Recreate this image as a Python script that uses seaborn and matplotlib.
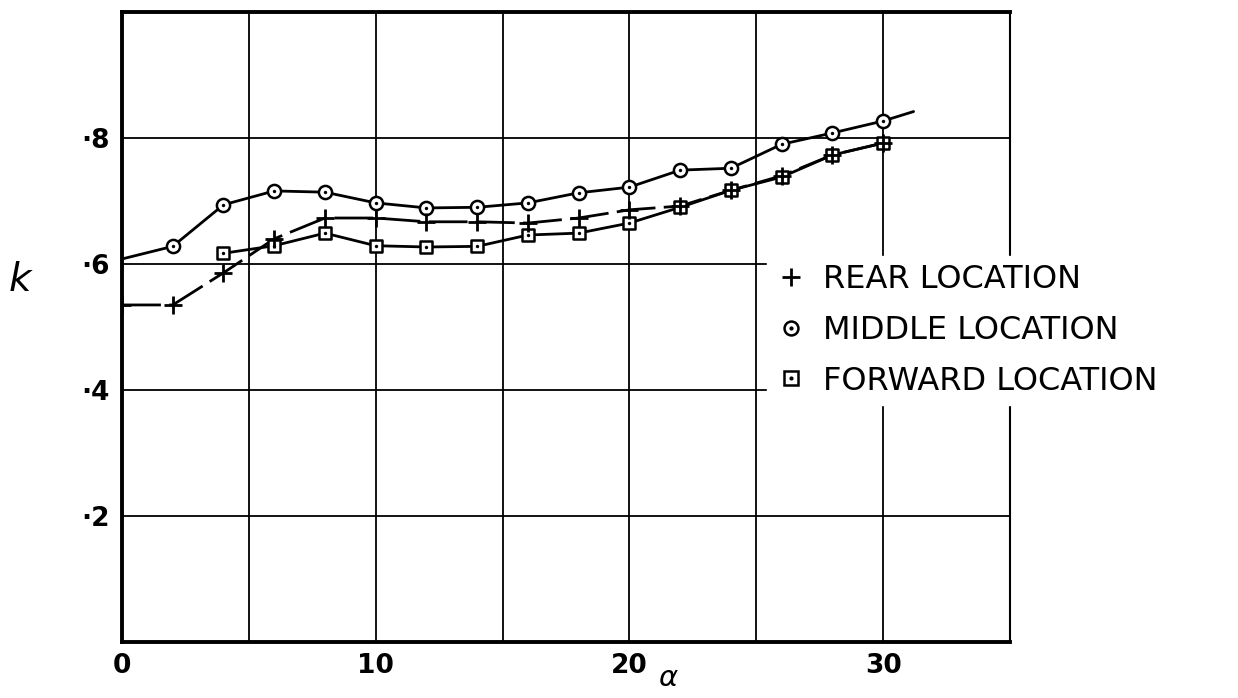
import matplotlib
matplotlib.use("Agg")
import matplotlib.pyplot as plt
import seaborn as sns
import pandas as pd
from matplotlib.lines import Line2D
from matplotlib.legend_handler import HandlerTuple

# ---- data ----
alpha_rear = [0, 2, 4, 6, 8, 10, 12, 14, 16, 18, 20, 22, 24, 26, 28, 30]
k_rear = [0.535, 0.535, 0.586, 0.640, 0.673, 0.673, 0.667, 0.667, 0.665,
          0.673, 0.686, 0.692, 0.717, 0.740, 0.773, 0.792]

alpha_middle = [2, 4, 6, 8, 10, 12, 14, 16, 18, 20, 22, 24, 26, 28, 30]
k_middle = [0.628, 0.694, 0.716, 0.714, 0.697, 0.689, 0.690, 0.697, 0.713,
            0.722, 0.749, 0.752, 0.790, 0.808, 0.827]
# faired curve ends (no marker)
alpha_middle_curve = [0] + alpha_middle + [31.2]
k_middle_curve = [0.608] + k_middle + [0.842]

alpha_forward = [4, 6, 8, 10, 12, 14, 16, 18, 20, 22, 24, 26, 28, 30]
k_forward = [0.617, 0.629, 0.649, 0.629, 0.627, 0.628, 0.646, 0.649, 0.665,
             0.690, 0.717, 0.738, 0.773, 0.792]

xtick_vals = [0, 5, 10, 15, 20, 25, 30, 35]
xtick_labels = ["0", "", "10", "", "20", "", "30", ""]
ytick_vals = [0.0, 0.2, 0.4, 0.6, 0.8, 1.0]
ytick_labels = ["", "·2", "·4", "·6", "·8", ""]
legend_labels = ["REAR LOCATION", "MIDDLE LOCATION", "FORWARD LOCATION"]

df_rear = pd.DataFrame({"alpha": alpha_rear, "k": k_rear})
df_mid = pd.DataFrame({"alpha": alpha_middle, "k": k_middle})
df_mid_curve = pd.DataFrame({"alpha": alpha_middle_curve, "k": k_middle_curve})
df_fwd = pd.DataFrame({"alpha": alpha_forward, "k": k_forward})

sns.set_theme(style="white")
plt.rcParams["font.family"] = ["DejaVu Sans"]
plt.rcParams["text.color"] = "black"
plt.rcParams["mathtext.fontset"] = "dejavusans"

fig = plt.figure(figsize=(12.38, 6.98), dpi=100)
ax = fig.add_axes([122 / 1238, 1 - 642 / 698, (1010 - 122) / 1238, (642 - 12) / 698])

lw = 2.0
sns.lineplot(data=df_mid_curve, x="alpha", y="k", ax=ax, color="black", lw=lw,
             sort=False, estimator=None, zorder=3)
sns.lineplot(data=df_fwd, x="alpha", y="k", ax=ax, color="black", lw=lw,
             sort=False, estimator=None, zorder=3)
sns.lineplot(data=df_rear, x="alpha", y="k", ax=ax, color="black", lw=lw,
             sort=False, estimator=None, zorder=3, dashes=False)
ax.lines[-1].set_dashes([14, 3])

ms = 90
sns.scatterplot(data=df_mid, x="alpha", y="k", ax=ax, marker="o", s=ms,
                facecolor="white", edgecolor="black", linewidth=1.8, zorder=5)
sns.scatterplot(data=df_fwd, x="alpha", y="k", ax=ax, marker="s", s=ms * 0.85,
                facecolor="white", edgecolor="black", linewidth=1.8, zorder=5)
sns.scatterplot(data=df_mid, x="alpha", y="k", ax=ax, marker="o", s=6,
                color="black", linewidth=0, zorder=6)
sns.scatterplot(data=df_fwd, x="alpha", y="k", ax=ax, marker="o", s=6,
                color="black", linewidth=0, zorder=6)
sns.scatterplot(data=df_rear, x="alpha", y="k", ax=ax, marker="+", s=160,
                color="black", linewidth=2.0, zorder=7)

ax.set_xlim(0, 35)
ax.set_ylim(0, 1.0)
ax.set_xticks(xtick_vals)
ax.set_xticklabels(xtick_labels)
ax.set_yticks(ytick_vals)
ax.set_yticklabels(ytick_labels)
ax.tick_params(axis="both", length=0, labelsize=19, colors="black")
ax.tick_params(axis="x", pad=8)
ax.tick_params(axis="y", pad=9)
for t in ax.get_xticklabels() + ax.get_yticklabels():
    t.set_fontweight("bold")
ax.grid(True, color="black", lw=1.3)
ax.set_axisbelow(True)
for side in ["left", "bottom", "top"]:
    ax.spines[side].set_color("black")
    ax.spines[side].set_linewidth(2.8)
ax.spines["right"].set_color("black")
ax.spines["right"].set_linewidth(1.5)

ax.set_xlabel(r"$\alpha$", fontsize=21, color="black", va="center")
ax.xaxis.set_label_coords((668 - 122) / (1010 - 122), -(678 - 642) / 630)
ax.set_ylabel("$k$", fontsize=28, rotation=0, color="black")
ax.yaxis.set_label_coords(-0.114, 0.545)

h_rear = Line2D([], [], ls="none", marker="+", color="black", ms=13, mew=2.0)
h_mid = (Line2D([], [], ls="none", marker="o", mfc="white", mec="black", ms=10, mew=1.8),
         Line2D([], [], ls="none", marker="o", color="black", ms=2))
h_fwd = (Line2D([], [], ls="none", marker="s", mfc="white", mec="black", ms=10, mew=1.8),
         Line2D([], [], ls="none", marker="o", color="black", ms=2))
leg = ax.legend([h_rear, h_mid, h_fwd], legend_labels,
                handler_map={tuple: HandlerTuple(ndivide=1, pad=0)},
                loc="upper left", bbox_to_anchor=(767 / 1238, 1 - 256 / 698),
                bbox_transform=fig.transFigure, frameon=True, fancybox=False,
                facecolor="white", edgecolor="white", framealpha=1,
                fontsize=23, handlelength=1.0, handletextpad=0.5,
                labelspacing=0.62, borderpad=0.25, borderaxespad=0)
leg.set_zorder(10)
for t in leg.get_texts():
    t.set_color("black")

fig.savefig("out.png", dpi=100, facecolor="white")
